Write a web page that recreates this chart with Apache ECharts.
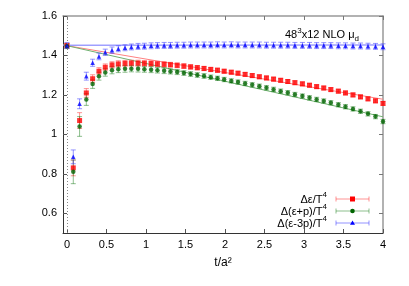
<!DOCTYPE html>
<html><head><meta charset="utf-8">
<script src="https://cdn.jsdelivr.net/npm/echarts@6/dist/echarts.min.js"></script>
<style>html,body{margin:0;padding:0;background:#fff}#c{width:409px;height:286px}</style>
</head><body><div id="c"></div>
<script>
// flow time t/a^2
const tValues = [0, 0.08, 0.16, 0.245, 0.325, 0.405, 0.485, 0.57, 0.65, 0.735, 0.815, 0.9, 0.98, 1.065, 1.145, 1.23, 1.31, 1.395,
  1.48, 1.565, 1.65, 1.735, 1.82, 1.905, 1.99, 2.08, 2.165, 2.255, 2.345, 2.435, 2.525, 2.615, 2.705, 2.795,
  2.885, 2.98, 3.07, 3.16, 3.25, 3.34, 3.435, 3.525, 3.62, 3.715, 3.81, 3.905, 4.0];
// Δε/T^4
const epsVals = [1.45, 0.83, 1.07, 1.21, 1.282, 1.32, 1.34, 1.352, 1.357, 1.36, 1.361, 1.361, 1.36, 1.359, 1.357, 1.355, 1.353, 1.35,
  1.346, 1.342, 1.338, 1.334, 1.329, 1.325, 1.32, 1.315, 1.31, 1.304, 1.298, 1.292, 1.286, 1.28, 1.274, 1.268,
  1.262, 1.256, 1.249, 1.242, 1.235, 1.227, 1.219, 1.21, 1.2, 1.19, 1.18, 1.17, 1.157];
const epsErr = [0.012, 0.04, 0.04, 0.022, 0.02, 0.018, 0.017, 0.016, 0.016, 0.015, 0.015, 0.015, 0.014, 0.014, 0.013, 0.013, 0.012, 0.012,
  0.012, 0.011, 0.011, 0.011, 0.011, 0.011, 0.01, 0.01, 0.01, 0.01, 0.01, 0.01, 0.01, 0.01, 0.01, 0.01,
  0.01, 0.01, 0.01, 0.01, 0.01, 0.01, 0.01, 0.01, 0.01, 0.01, 0.01, 0.01, 0.01];
// Δ(ε+p)/T^4
const enthVals = [1.447, 0.81, 1.04, 1.177, 1.255, 1.295, 1.314, 1.325, 1.33, 1.332, 1.333, 1.332, 1.33, 1.328, 1.325, 1.322, 1.319, 1.316,
  1.311, 1.306, 1.301, 1.296, 1.29, 1.284, 1.278, 1.271, 1.265, 1.258, 1.251, 1.244, 1.236, 1.228, 1.219, 1.211,
  1.202, 1.194, 1.185, 1.177, 1.169, 1.16, 1.15, 1.14, 1.129, 1.117, 1.104, 1.09, 1.065];
const enthErr = [0.012, 0.06, 0.05, 0.03, 0.022, 0.02, 0.019, 0.018, 0.017, 0.017, 0.016, 0.016, 0.015, 0.015, 0.014, 0.014, 0.013, 0.013,
  0.012, 0.012, 0.012, 0.012, 0.011, 0.011, 0.011, 0.011, 0.011, 0.011, 0.011, 0.011, 0.011, 0.011, 0.011, 0.011,
  0.011, 0.011, 0.011, 0.011, 0.011, 0.011, 0.011, 0.011, 0.011, 0.011, 0.011, 0.011, 0.011];
// Δ(ε-3p)/T^4
const traceVals = [1.45, 0.886, 1.155, 1.295, 1.363, 1.395, 1.416, 1.427, 1.434, 1.439, 1.443, 1.446, 1.447, 1.449, 1.45, 1.451, 1.451, 1.452,
  1.452, 1.453, 1.453, 1.453, 1.453, 1.454, 1.453, 1.454, 1.453, 1.453, 1.453, 1.453, 1.452, 1.452, 1.452, 1.452,
  1.451, 1.451, 1.451, 1.45, 1.45, 1.45, 1.449, 1.449, 1.448, 1.448, 1.447, 1.446, 1.444];
const traceErr = [0.015, 0.035, 0.025, 0.02, 0.018, 0.017, 0.016, 0.016, 0.015, 0.015, 0.015, 0.015, 0.015, 0.015, 0.015, 0.015, 0.015, 0.015,
  0.015, 0.015, 0.015, 0.015, 0.015, 0.015, 0.015, 0.015, 0.015, 0.015, 0.015, 0.015, 0.015, 0.015, 0.015, 0.015,
  0.015, 0.015, 0.015, 0.015, 0.015, 0.015, 0.015, 0.015, 0.015, 0.015, 0.015, 0.015, 0.015];
// fit lines (extrapolation to t=0)
const fitT = [-0.05, 4];
const fitEps = [1.453, 1.178];
const fitEnth = [1.454, 1.089];
const fitTrace = [1.452, 1.453];
const xTicks = [0, 0.5, 1, 1.5, 2, 2.5, 3, 3.5, 4];
const yTicks = [0.6, 0.8, 1, 1.2, 1.4, 1.6];

const FONT = 'Liberation Sans, Arial, sans-serif';
const C = {
  eps: {mark: '#ff0000', light: 'rgba(255,60,60,0.55)', fit: '#ff8080'},
  enth: {mark: '#006400', light: 'rgba(0,110,0,0.45)', fit: '#70b070'},
  trace: {mark: '#0000ff', light: 'rgba(60,60,255,0.55)', fit: '#7070ff'}
};

function pts(vals) { return tValues.map((t, i) => [t, vals[i]]); }
function errs(vals, e) { return tValues.map((t, i) => [t, vals[i] - e[i], vals[i] + e[i]]); }
function fit(v) { return fitT.map((t, i) => [t, v[i]]); }

function errSeries(data, color) {
  return {
    type: 'custom', data: data, z: 2, silent: true,
    renderItem: function (params, api) {
      const x = api.value(0), lo = api.value(1), hi = api.value(2);
      const p1 = api.coord([x, lo]), p2 = api.coord([x, hi]);
      const w = 2.5;
      const st = {stroke: color, lineWidth: 1};
      return {type: 'group', children: [
        {type: 'line', shape: {x1: p1[0], y1: p1[1], x2: p2[0], y2: p2[1]}, style: st},
        {type: 'line', shape: {x1: p1[0] - w, y1: p1[1], x2: p1[0] + w, y2: p1[1]}, style: st},
        {type: 'line', shape: {x1: p2[0] - w, y1: p2[1], x2: p2[0] + w, y2: p2[1]}, style: st}
      ]};
    },
    encode: {x: 0, y: [1, 2]}
  };
}
function fitSeries(data, color) {
  return {type: 'line', data: data, showSymbol: false, z: 1, silent: true,
    lineStyle: {color: color, width: 1}};
}

const chart = echarts.init(document.getElementById('c'), null, {renderer: 'canvas'});
const legendRows = [
  {rich: '{n|Δε/T}{s|4}', c: C.eps, sym: 'rect'},
  {rich: '{n|Δ(ε+p)/T}{s|4}', c: C.enth, sym: 'circle'},
  {rich: '{n|Δ(ε-3p)/T}{s|4}', c: C.trace, sym: 'triangle'}
];
const legendY = [199, 211, 223];
const graphics = [];
legendRows.forEach((r, i) => {
  const y = legendY[i];
  graphics.push({type: 'text', right: 409 - 327, top: y - 8, style: {
    text: r.rich, align: 'right', fill: '#000', font: '11px ' + FONT,
    rich: {n: {fontSize: 11, fontFamily: FONT, fill: '#000', verticalAlign: 'bottom', lineHeight: 14},
           s: {fontSize: 8, fontFamily: FONT, fill: '#000', verticalAlign: 'top', lineHeight: 14}}
  }});
  const st = {stroke: r.c.light, lineWidth: 1};
  graphics.push({type: 'line', shape: {x1: 336, y1: y, x2: 369, y2: y}, style: st});
  graphics.push({type: 'line', shape: {x1: 336, y1: y - 2.5, x2: 336, y2: y + 2.5}, style: st});
  graphics.push({type: 'line', shape: {x1: 369, y1: y - 2.5, x2: 369, y2: y + 2.5}, style: st});
  if (r.sym === 'rect') graphics.push({type: 'rect', shape: {x: 350, y: y - 2.5, width: 5, height: 5}, style: {fill: r.c.mark}});
  else if (r.sym === 'circle') graphics.push({type: 'circle', shape: {cx: 352.5, cy: y, r: 2.3}, style: {fill: r.c.mark}});
  else graphics.push({type: 'polygon', shape: {points: [[352.5, y - 2.5], [350, y + 1.8], [355, y + 1.8]]}, style: {fill: r.c.mark}});
});
graphics.push({type: 'text', left: 285, top: 27, style: {
  text: '{n|48}{s|3}{n|x12 NLO μ}{d|d}', font: '11px ' + FONT,
  rich: {n: {fontSize: 11, fontFamily: FONT, fill: '#000', lineHeight: 16, verticalAlign: 'middle'},
         s: {fontSize: 8, fontFamily: FONT, fill: '#000', lineHeight: 16, verticalAlign: 'top'},
         d: {fontSize: 8, fontFamily: FONT, fill: '#000', lineHeight: 16, verticalAlign: 'bottom'}}
}});

const axisLbl = {fontFamily: FONT, fontSize: 11, color: '#000'};
chart.setOption({
  animation: false,
  grid: {left: 63, right: 26, top: 16, bottom: 53},
  xAxis: [
    {type: 'value', min: -0.05, max: 4, position: 'bottom',
     name: 't/a²', nameLocation: 'middle', nameGap: 24, nameTextStyle: {fontFamily: FONT, fontSize: 12, color: '#000'},
     axisLine: {show: true, onZero: false, lineStyle: {color: '#333', width: 1}},
     axisTick: {show: true, inside: true, length: 4, customValues: xTicks, lineStyle: {color: '#555'}},
     axisLabel: Object.assign({customValues: xTicks, margin: 6, formatter: v => String(v)}, axisLbl),
     splitLine: {show: false}},
    {type: 'value', min: -0.05, max: 4, position: 'top',
     axisLine: {show: true, onZero: false, lineStyle: {color: '#999', width: 1.5}},
     axisTick: {show: true, inside: true, length: 4, customValues: xTicks, lineStyle: {color: '#777'}},
     axisLabel: {show: false}, splitLine: {show: false}}
  ],
  yAxis: [
    {type: 'value', min: 0.5, max: 1.6, position: 'left',
     axisLine: {show: true, onZero: false, lineStyle: {color: '#333', width: 1}},
     axisTick: {show: true, inside: true, length: 4, customValues: yTicks, lineStyle: {color: '#555'}},
     axisLabel: Object.assign({customValues: yTicks, margin: 6, formatter: v => String(+v.toFixed(1))}, axisLbl),
     splitLine: {show: false}},
    {type: 'value', min: 0.5, max: 1.6, position: 'right',
     axisLine: {show: true, onZero: false, lineStyle: {color: '#999', width: 1.5}},
     axisTick: {show: true, inside: true, length: 4, customValues: yTicks, lineStyle: {color: '#777'}},
     axisLabel: {show: false}, splitLine: {show: false}}
  ],
  graphic: graphics,
  series: [
    fitSeries(fit(fitEps), C.eps.fit),
    fitSeries(fit(fitEnth), C.enth.fit),
    fitSeries(fit(fitTrace), C.trace.fit),
    errSeries(errs(epsVals, epsErr), C.eps.light),
    errSeries(errs(enthVals, enthErr), C.enth.light),
    errSeries(errs(traceVals, traceErr), C.trace.light),
    {type: 'scatter', name: 'eps', data: pts(epsVals), symbol: 'rect', symbolSize: 5, z: 3,
     itemStyle: {color: C.eps.mark},
     markLine: {silent: true, symbol: 'none', label: {show: false},
       lineStyle: {color: '#888', type: [1, 2], width: 1}, data: [{xAxis: 0}]}},
    {type: 'scatter', name: 'enth', data: pts(enthVals), symbol: 'circle', symbolSize: 4.5, z: 4,
     itemStyle: {color: C.enth.mark}},
    {type: 'scatter', name: 'trace', data: pts(traceVals), symbol: 'triangle', symbolSize: 4.5, z: 5,
     itemStyle: {color: C.trace.mark}}
  ]
});
</script></body></html>
